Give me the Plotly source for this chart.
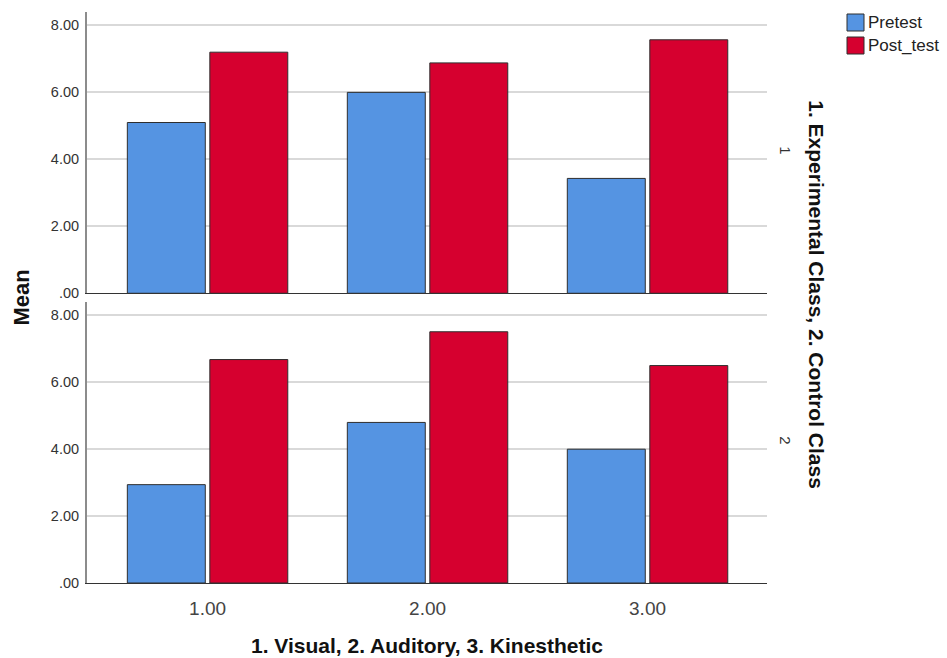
import plotly.graph_objects as go

# Learning-style groups and mean scores per class
styles = [1, 2, 3]
style_labels = ["1.00", "2.00", "3.00"]
classes = ["1", "2"]
series_names = ["Pretest", "Post_test"]

pretest_experimental = [5.1, 6.0, 3.43]
posttest_experimental = [7.2, 6.88, 7.57]
pretest_control = [2.94, 4.8, 4.0]
posttest_control = [6.68, 7.51, 6.5]

y_ticks = [0, 2, 4, 6, 8]
y_tick_labels = [".00", "2.00", "4.00", "6.00", "8.00"]

BLUE = "#5594e2"
RED = "#d6002f"
OUTLINE = "#2e2e2e"
FONT = "Liberation Sans, Arial, sans-serif"

fig = go.Figure()

# (x axis, y axis, pretest, post-test) for the two class panels
panels = [
    ("x", "y", pretest_experimental, posttest_experimental),
    ("x2", "y2", pretest_control, posttest_control),
]
for xa, ya, pre, post in panels:
    fig.add_trace(go.Bar(x=styles, y=pre, name=series_names[0], xaxis=xa, yaxis=ya,
                         marker=dict(color=BLUE, line=dict(color=OUTLINE, width=1)),
                         showlegend=False))
    fig.add_trace(go.Bar(x=styles, y=post, name=series_names[1], xaxis=xa, yaxis=ya,
                         marker=dict(color=RED, line=dict(color=OUTLINE, width=1)),
                         showlegend=False))

y_axis = dict(
    range=[0, 8.4],
    tickvals=y_ticks,
    ticktext=y_tick_labels,
    showgrid=True,
    gridcolor="#d9d9d9",
    gridwidth=1.5,
    zeroline=False,
    showline=True,
    linecolor="#8c8c8c",
    linewidth=2,
    ticks="",
    ticklabelstandoff=3,
    tickfont=dict(family=FONT, size=14.5, color="#333333"),
)
x_axis = dict(
    range=[0.452, 3.543],
    tickvals=styles,
    ticktext=style_labels,
    showgrid=False,
    zeroline=False,
    showline=True,
    linecolor="#333333",
    linewidth=1,
    ticks="",
    ticklabelstandoff=8,
    tickfont=dict(family=FONT, size=19, color="#444444"),
)

top_domain = [0.5074, 1.0]
bottom_domain = [0.0, 0.4921]

annotations = [
    dict(text="<b>Mean</b>", x=-0.0956, y=0.5, xref="paper", yref="paper", textangle=-90,
         xanchor="center", yanchor="middle",
         showarrow=False, font=dict(family=FONT, size=22, color="#111111")),
    dict(text="<b>1. Visual, 2. Auditory, 3. Kinesthetic</b>", x=0.5, y=-0.11, xref="paper", yref="paper",
         xanchor="center", yanchor="middle",
         showarrow=False, font=dict(family=FONT, size=21, color="#111111")),
    dict(text="<b>1. Experimental Class, 2. Control Class</b>", x=1.0735, y=0.504, xref="paper", yref="paper",
         xanchor="center", yanchor="middle",
         textangle=90, showarrow=False, font=dict(family=FONT, size=21, color="#111111")),
    dict(text=classes[0], x=1.028, y=0.758, xref="paper", yref="paper", textangle=90,
         xanchor="center", yanchor="middle",
         showarrow=False, font=dict(family=FONT, size=15, color="#333333")),
    dict(text=classes[1], x=1.028, y=0.25, xref="paper", yref="paper", textangle=90,
         xanchor="center", yanchor="middle",
         showarrow=False, font=dict(family=FONT, size=15, color="#333333")),
]

# Legend: outlined square swatches with labels to their right
shapes = []
plot_w, plot_h = 680.0, 571.0
legend_left_px = 847 - 87
swatch_px = 17
for i, (name, color) in enumerate(zip(series_names, [BLUE, RED])):
    top_px = 14 + i * 23
    x0 = legend_left_px / plot_w
    x1 = (legend_left_px + swatch_px) / plot_w
    y1 = (583 - top_px) / plot_h
    y0 = (583 - top_px - swatch_px) / plot_h
    shapes.append(dict(type="rect", xref="paper", yref="paper", x0=x0, x1=x1, y0=y0, y1=y1,
                       fillcolor=color, line=dict(color=OUTLINE, width=1)))
    annotations.append(dict(text=name, xref="paper", yref="paper", x=(legend_left_px + swatch_px + 2) / plot_w,
                            y=(y0 + y1) / 2, xanchor="left", yanchor="middle", showarrow=False,
                            font=dict(family=FONT, size=17, color="#222222")))

fig.update_layout(
    template="none",
    width=947,
    height=658,
    margin=dict(l=87, r=180, t=12, b=75),
    paper_bgcolor="white",
    plot_bgcolor="white",
    barmode="group",
    bargap=0.25,
    bargroupgap=0.055,
    xaxis=dict(x_axis, anchor="y", showticklabels=False, matches="x2"),
    yaxis=dict(y_axis, anchor="x", domain=top_domain),
    xaxis2=dict(x_axis, anchor="y2"),
    yaxis2=dict(y_axis, anchor="x2", domain=bottom_domain),
    annotations=annotations,
    shapes=shapes,
    showlegend=False,
)

fig.write_html("out.html", config={"displayModeBar": False})
